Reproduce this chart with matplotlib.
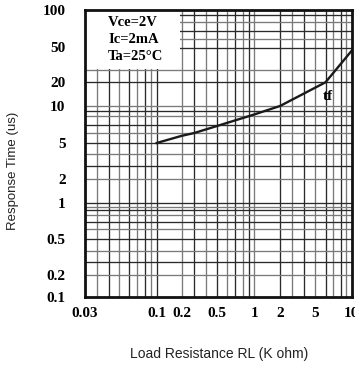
import numpy as np
import matplotlib
matplotlib.use("Agg")
import matplotlib.pyplot as plt

# ---- data ----
load_res = [0.1, 0.2, 0.3, 0.5, 1, 2, 4, 6, 10]          # K ohm
resp_time = [5, 5.7, 6.0, 6.8, 8.2, 10, 14.3, 20, 47]    # us

x_tick_vals = [0.03, 0.1, 0.2, 0.5, 1, 2, 5, 10]
x_tick_labels = ["0.03", "0.1", "0.2", "0.5", "1", "2", "5", "10"]
y_tick_vals = [100, 50, 20, 10, 5, 2, 1, 0.5, 0.2, 0.1]
y_tick_labels = ["100", "50", "20", "10", "5", "2", "1", "0.5", "0.2", "0.1"]

x_grid_vals = [0.04, 0.05, 0.06, 0.07, 0.08, 0.09, 0.095, 0.1, 0.2, 0.3, 0.4, 0.5,
               0.6, 0.7, 0.8, 0.9, 1, 2, 3, 4, 5, 6, 7, 8, 9]
y_grid_vals = [90, 80, 70, 60, 50, 30, 20, 10, 9, 8, 7, 6, 5, 4, 3, 2, 1,
               0.9, 0.8, 0.7, 0.6, 0.55, 0.5, 0.4, 0.3, 0.2]

# ---- scale definition (the printed chart's axes are not uniformly logarithmic) ----
x_anchor_vals = [0.03, 0.04, 0.05, 0.06, 0.07, 0.08, 0.09, 0.095, 0.1, 0.2, 0.3, 0.4, 0.5,
                 0.6, 0.7, 0.8, 0.9, 1, 2, 3, 4, 5, 6, 7, 8, 9, 10]
x_anchor_pos = [85, 97, 108.5, 119.3, 128.7, 137.3, 144.5, 151, 156.7, 181.7, 194.3, 206,
                216.7, 226.7, 235, 242.5, 248.7, 254.3, 280, 292.3, 303.5, 315, 325.5,
                333.3, 340.5, 346, 351.7]
y_anchor_vals = [0.1, 0.2, 0.3, 0.4, 0.5, 0.55, 0.6, 0.7, 0.8, 0.9, 1, 2, 3, 4, 5, 6, 7,
                 8, 9, 10, 20, 30, 40, 50, 60, 70, 80, 90, 100]
y_anchor_pos = [297, 274.5, 262, 250.7, 239.3, 229, 221.7, 215, 209.5, 206.7, 202.5, 178.7,
                165.5, 154.2, 143, 133, 124.5, 115.5, 110.5, 106, 82.3, 70, 59, 47.5, 39,
                30.5, 22.3, 15, 10]


def make_scale(vals, pos):
    lv = np.log10(np.asarray(vals, float))
    p = np.asarray(pos, float)

    def fwd(v):
        v = np.asarray(v, float)
        l = np.log10(np.where(v > 0, v, 1e-12))
        return np.interp(l, lv, p)

    def inv(q):
        return 10 ** np.interp(np.asarray(q, float), p, lv)
    return fwd, inv


xf, xi = make_scale(x_anchor_vals, x_anchor_pos)
yf, yi = make_scale(y_anchor_vals, [-v for v in y_anchor_pos])

serif = ["Liberation Serif", "DejaVu Serif"]
sans = ["Liberation Sans", "DejaVu Sans"]

W, H = 355, 366
fig = plt.figure(figsize=(W / 100, H / 100), dpi=100)
ax = fig.add_axes([85 / W, (H - 297) / H, (351.7 - 85) / W, (297 - 10) / H])
ax.set_xscale("function", functions=(xf, xi))
ax.set_yscale("function", functions=(yf, yi))
ax.set_xlim(0.03, 10)
ax.set_ylim(0.1, 100)

for i, gx in enumerate(x_grid_vals):
    ax.axvline(gx, color="#2a2a2a" if i % 2 else "#7a7a7a", lw=0.95, zorder=1)
for i, gy in enumerate(y_grid_vals):
    ax.axhline(gy, color="#2a2a2a" if i % 2 == 0 else "#7a7a7a", lw=0.95, zorder=1)

# blank box for the conditions
ax.fill_between([0.03, 0.19], 31, 100, color="white", zorder=2, lw=0)

ax.plot(load_res, resp_time, color="#1a1a1a", lw=1.7, zorder=3)

ax.set_xticks(x_tick_vals)
ax.set_xticklabels(x_tick_labels)
ax.set_yticks(y_tick_vals)
ax.set_yticklabels(y_tick_labels)
ax.minorticks_off()
ax.tick_params(axis="both", length=0)
ax.tick_params(axis="x", pad=7)
ax.tick_params(axis="y", pad=14)
for lab in ax.get_xticklabels() + ax.get_yticklabels():
    lab.set_fontfamily(serif)
    lab.set_fontweight("bold")
    lab.set_fontsize(11)

for s in ax.spines.values():
    s.set_linewidth(2.0)
    s.set_color("#111111")
    s.set_zorder(4)

for txt, yy in [("Vce=2V", 22.5), ("Ic=2mA", 39.5), ("Ta=25°C", 57)]:
    fig.text(108 / W, 1 - yy / H, txt, ha="left", va="center", fontsize=10.5,
             fontweight="bold", family=serif)

fig.text(328 / W, 1 - 97 / H, "tf", ha="center", va="center", fontsize=11,
         fontweight="bold", family=serif)

fig.text(13 / W, 1 - 171 / H, "Response Time (us)", rotation=90, ha="center",
         va="center", fontsize=9.5, family=sans, color="#222222")
fig.text(219 / W, 1 - 354 / H, "Load Resistance RL (K ohm)", ha="center",
         va="center", fontsize=10, family=sans, color="#222222")

fig.savefig("out.png", dpi=100)
